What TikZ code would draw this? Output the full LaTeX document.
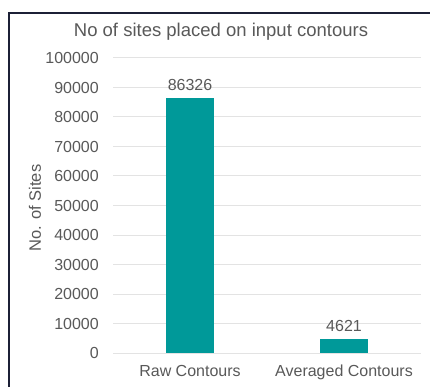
\documentclass[tikz,border=0pt]{standalone}
\usepackage{fontspec}
\setmainfont{Liberation Sans}
\usetikzlibrary{positioning}
\definecolor{teal}{HTML}{009999}
\definecolor{txtgray}{HTML}{595959}
\definecolor{gridgray}{HTML}{E3E3E3}
\definecolor{framenavy}{HTML}{1C2036}
\begin{document}
\begin{tikzpicture}[x=1pt, y=-1pt, node distance={7pt},
	lbl/.style = {inner sep=0pt, text=txtgray, font=\fontsize{16}{19}\selectfont},
	bar/.style = {fill=teal, draw=none, inner sep=0pt, minimum width=48pt, anchor=south},
	grid/.style = {draw=gridgray, line width=1pt},
	frame/.style = {draw=framenavy, line width=2pt}]
			\useasboundingbox (0,0) rectangle (430,387);
			\fill[white] (0,0) rectangle (430,387);
			\draw[frame] (9,388) -- (9,13) -- (431,13);
			\node[lbl, font=\fontsize{18.5}{22}\selectfont] (title) at (221,32) {No of sites placed on input contours};
			\foreach \v in {0,...,10} {
				\draw[grid] (113,353-29.5*\v) -- (421,353-29.5*\v);
				\node[lbl, anchor=east] (tick\v) at (99,353-29.5*\v) {\ifnum\v=0 0\else\v0000\fi};
			}
			\node[lbl, rotate=90, font=\fontsize{16.5}{20}\selectfont] (ytitle) at (35,208) {No. of Sites};
			\node[bar, minimum height=254.66pt] (raw) at (190,353) {};
			\node[bar, minimum height=13.63pt] (avg) at (344,353) {};
			\node[lbl] (rawval) [above=of raw] {86326};
			\node[lbl] (avgval) [above=of avg] {4621};
			\node[lbl] (rawcat) [below=12pt of raw] {Raw Contours};
			\node[lbl] (avgcat) [below=12pt of avg] {Averaged Contours};
		\end{tikzpicture}
\end{document}
